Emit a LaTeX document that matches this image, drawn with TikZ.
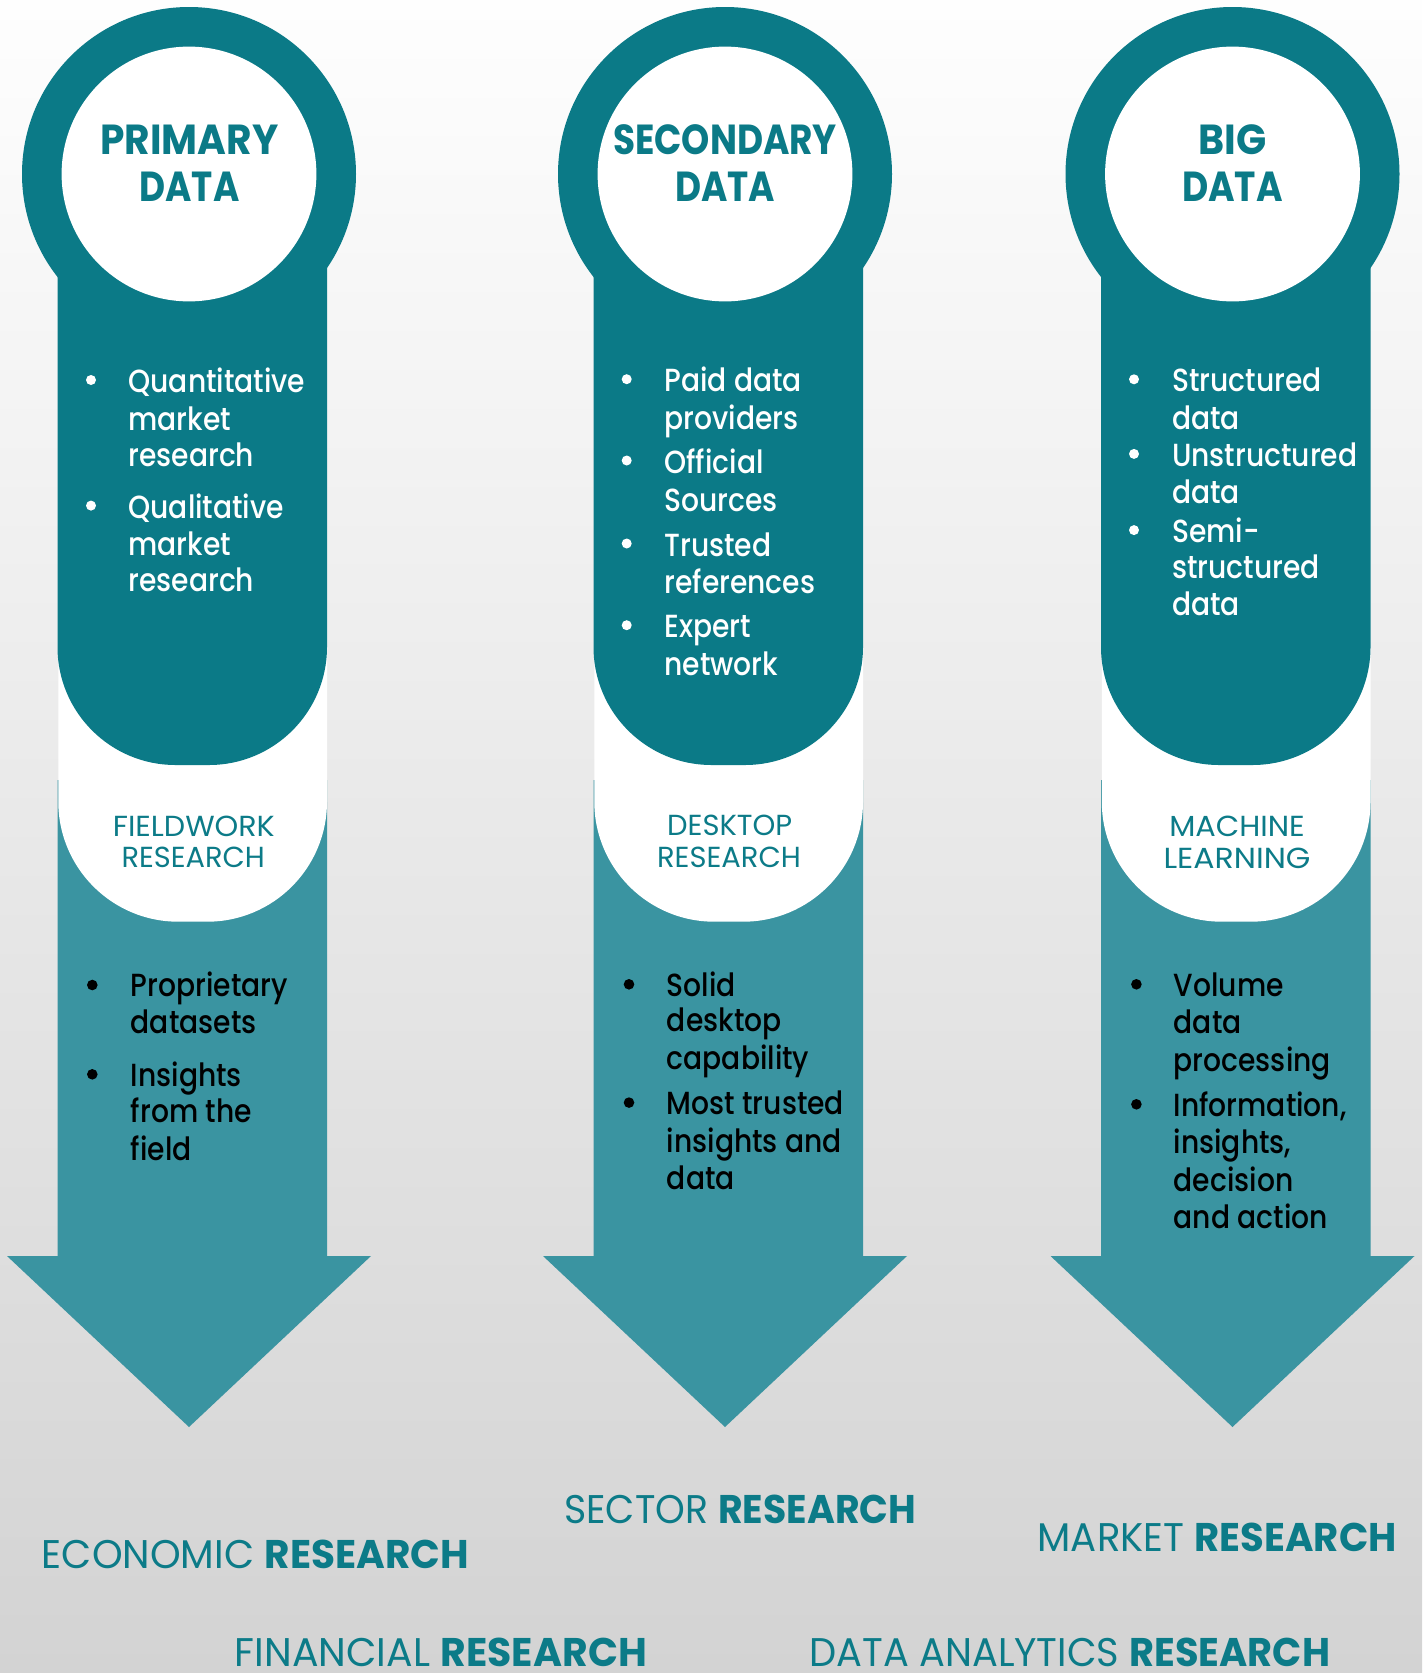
\documentclass[tikz,border=0pt]{standalone}
\usepackage{fontspec}
\usepackage{graphicx}
\setmainfont{Poppins}
\newfontfamily\bodyfont{Poppins Medium}[FakeStretch=0.88]
\definecolor{tealdark}{HTML}{0B7A87}
\definecolor{teallight}{HTML}{3A94A1}
\definecolor{tealtext}{HTML}{0C7B88}
\definecolor{bgtop}{HTML}{FEFEFE}
\definecolor{bgmid}{HTML}{EEEEEE}
\definecolor{bgbot}{HTML}{D3D3D3}
\tikzset{
  wtxt/.style={anchor=base west, inner sep=0pt, text=white, font=\bodyfont\fontsize{32}{37}\selectfont},
  ktxt/.style={anchor=base west, inner sep=0pt, text=black, font=\bodyfont\fontsize{32}{37}\selectfont},
  ttl/.style={anchor=base, inner sep=0pt, text=tealdark, font=\bfseries\fontsize{42}{47}\selectfont},
  lbl/.style={anchor=base, inner sep=0pt, text=tealtext, font=\fontsize{29}{32}\selectfont},
  btm/.style={anchor=base west, inner sep=0pt, text depth=0pt, text=tealtext, font=\fontsize{40}{44}\selectfont},
  wdot/.style={fill=white},
  kdot/.style={fill=black},
}
\newcommand\column[1]{%
  % #1 = centre x
  \pgfmathsetmacro\cL{#1-131.5}\pgfmathsetmacro\cR{#1+138}%
  \pgfmathsetmacro\hL{#1-182}\pgfmathsetmacro\hR{#1+182}%
  \fill[teallight] (\cL,780) -- (\cR,780) -- (\cR,1256) -- (\hR,1256) -- (#1,1427) -- (\hL,1256) -- (\cL,1256) -- cycle;
  \fill[white, rounded corners=120pt] (\cL+0.8,300) rectangle (\cR,921.7);
  \fill[tealdark, rounded corners=118pt] (\cL,100) rectangle (\cR,765);
  \fill[tealdark] (#1,174) circle (167);
  \fill[white] (#1,174) circle (127.4);
}
\begin{document}
\begin{tikzpicture}[x=1pt,y=-1pt]
\useasboundingbox (0,0) rectangle (1422,1673);
\shade[top color=bgtop, middle color=bgmid, bottom color=bgbot] (0,0) rectangle (1422,1673);

\column{189}
\column{725}
\column{1232.5}

% ---------- column 1 ----------
\node[ttl] (p1) at (189.5,154.6) {\resizebox{178pt}{\height}{PRIMARY}};
\node[ttl] (p2) at (189.5,201.5) {\resizebox{100pt}{\height}{DATA}};
\fill[wdot] (91,380) circle (5);
\node[wtxt] (pa1) at (128.3,392.7) {Quantitative};
\node[wtxt] (pa2) at (128.3,430) {market};
\node[wtxt] (pa3) at (128.3,466.7) {research};
\fill[wdot] (91,505.6) circle (5);
\node[wtxt] (pb1) at (128.3,518.3) {Qualitative};
\node[wtxt] (pb2) at (128.3,555) {market};
\node[wtxt] (pb3) at (128.3,591.7) {research};
\node[lbl] (fl1) at (193.8,836) {\resizebox{162pt}{\height}{FIELDWORK}};
\node[lbl] (fl2) at (193.3,867.3) {\resizebox{143.3pt}{\height}{RESEARCH}};
\fill[kdot] (92.3,985) circle (5.3);
\node[ktxt] (pc1) at (130.7,996.7) {Proprietary};
\node[ktxt] (pc2) at (130.7,1033.3) {datasets};
\fill[kdot] (92.3,1074.3) circle (5.3);
\node[ktxt] (pd1) at (130.7,1086) {Insights};
\node[ktxt] (pd2) at (130.7,1122.7) {from the};
\node[ktxt] (pd3) at (130.7,1160) {field};

% ---------- column 2 ----------
\node[ttl] (s1) at (725,154.6) {\resizebox{224pt}{\height}{SECONDARY}};
\node[ttl] (s2) at (725,201.5) {\resizebox{100pt}{\height}{DATA}};
\fill[wdot] (626.7,379.2) circle (5);
\node[wtxt] (sa1) at (664.3,391.7) {Paid data};
\node[wtxt] (sa2) at (664.3,429.3) {providers};
\fill[wdot] (626.7,460.5) circle (5);
\node[wtxt] (sb1) at (664.3,473) {Official};
\node[wtxt] (sb2) at (664.3,511.7) {Sources};
\fill[wdot] (626.7,543.5) circle (5);
\node[wtxt] (sc1) at (664.3,556) {Trusted};
\node[wtxt] (sc2) at (664.3,593) {references};
\fill[wdot] (626.7,625.2) circle (5);
\node[wtxt] (sd1) at (664.3,637.7) {Expert};
\node[wtxt] (sd2) at (664.3,675) {network};
\node[lbl] (dl1) at (729.7,835.5) {\resizebox{125pt}{\height}{DESKTOP}};
\node[lbl] (dl2) at (729,867.3) {\resizebox{143.7pt}{\height}{RESEARCH}};
\fill[kdot] (629,984.3) circle (5.3);
\node[ktxt] (se1) at (666.7,996) {Solid};
\node[ktxt] (se2) at (666.7,1031.7) {desktop};
\node[ktxt] (se3) at (666.7,1069.3) {capability};
\fill[kdot] (629,1102.6) circle (5.3);
\node[ktxt] (sf1) at (666.7,1114.3) {Most trusted};
\node[ktxt] (sf2) at (666.7,1152.3) {insights and};
\node[ktxt] (sf3) at (666.7,1189.3) {data};

% ---------- column 3 ----------
\node[ttl] (b1) at (1232.5,154.6) {\resizebox{68pt}{\height}{BIG}};
\node[ttl] (b2) at (1232.5,201.5) {\resizebox{100.7pt}{\height}{DATA}};
\fill[wdot] (1134,379.3) circle (5);
\node[wtxt] (ba1) at (1172,391.8) {Structured};
\node[wtxt] (ba2) at (1172,429) {data};
\fill[wdot] (1134,453.9) circle (5);
\node[wtxt] (bb1) at (1172,466.4) {Unstructured};
\node[wtxt] (bb2) at (1172,503.7) {data};
\fill[wdot] (1134,530.1) circle (5);
\node[wtxt] (bc1) at (1172,542.6) {Semi-};
\node[wtxt] (bc2) at (1172,578.4) {structured};
\node[wtxt] (bc3) at (1172,615.7) {data};
\node[lbl] (ml1) at (1237,836) {\resizebox{135.5pt}{\height}{MACHINE}};
\node[lbl] (ml2) at (1237,868) {\resizebox{147pt}{\height}{LEARNING}};
\fill[kdot] (1136.4,984.3) circle (5.3);
\node[ktxt] (bd1) at (1173.6,996) {Volume};
\node[ktxt] (bd2) at (1173.6,1033.5) {data};
\node[ktxt] (bd3) at (1173.6,1071) {processing};
\fill[kdot] (1136.4,1104.3) circle (5.3);
\node[ktxt] (be1) at (1173.6,1116) {Information,};
\node[ktxt] (be2) at (1173.6,1153.7) {insights,};
\node[ktxt] (be3) at (1173.6,1191) {decision};
\node[ktxt] (be4) at (1173.6,1228.4) {and action};

% ---------- bottom labels ----------
\node[btm] (r1) at (41.7,1568.3) {\resizebox{427pt}{\height}{ECONOMIC \textbf{RESEARCH}}};
\node[btm] (r2) at (564,1523.3) {\resizebox{352pt}{\height}{SECTOR \textbf{RESEARCH}}};
\node[btm] (r3) at (1037.5,1551.7) {\resizebox{359pt}{\height}{MARKET \textbf{RESEARCH}}};
\node[btm] (r4) at (234.7,1666.7) {\resizebox{412pt}{\height}{FINANCIAL \textbf{RESEARCH}}};
\node[btm] (r5) at (809.3,1666.7) {\resizebox{520.7pt}{\height}{DATA ANALYTICS \textbf{RESEARCH}}};
\end{tikzpicture}
\end{document}
